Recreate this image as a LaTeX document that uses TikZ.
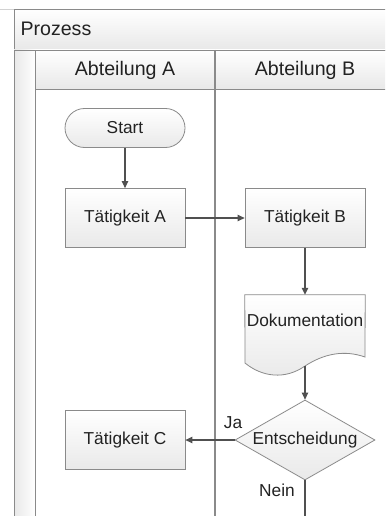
\documentclass[tikz,border=0pt]{standalone}
\usepackage{fontspec}
\setmainfont{Liberation Sans}
\usetikzlibrary{shapes.geometric,arrows.meta}

\definecolor{frame}{HTML}{8A8A8A}
\definecolor{wire}{HTML}{505050}
\definecolor{ink}{HTML}{222222}
\definecolor{bandlow}{HTML}{E8E8E8}
\definecolor{boxlow}{HTML}{E9E9E9}

\tikzset{
  body/.style={font=\fontsize{17.3}{20}\selectfont, text=ink},
  head/.style={font=\fontsize{19.6}{23}\selectfont, text=ink},
  band/.style={draw=frame, line width=0.9pt, top color=white, bottom color=bandlow},
  taskbox/.style={body, draw=frame, line width=0.8pt, top color=white, bottom color=boxlow,
    minimum width=120pt, minimum height=59pt, inner sep=0pt},
  terminal/.style={taskbox, minimum height=39pt, rounded corners=19.5pt},
  choice/.style={body, diamond, draw=frame, line width=0.8pt, top color=white, bottom color=boxlow,
    minimum width=140pt, minimum height=80pt, inner sep=0pt, shape aspect=1.75},
  flow/.style={draw=wire, line width=1.1pt, -{Triangle[length=7pt,width=6.5pt]}},
  plain/.style={draw=wire, line width=1.1pt},
  tag/.style={body, inner sep=0pt}
}

\begin{document}
\begin{tikzpicture}[x=1pt, y=-1pt]
\useasboundingbox (0,0) rectangle (385,516);
\begin{scope}
\clip (0,0) rectangle (385,516);
% pool frame: title band, left strip and lane headers
\draw[draw=gray!35, line width=0.8pt] (0,9) -- (14,9);
\path[band] (14,9) rectangle (400,50);
\path[draw=frame, line width=0.9pt, left color=bandlow, right color=white] (14,50) rectangle (35,530);
\path[band] (35,50) rectangle (400,89);
\draw[draw=frame, line width=1.2pt] (215,50) -- (215,530);
\node[head, anchor=west] (pool) at (17,29) {Prozess};
\node[head] (laneA) at (125,70) {Abteilung A};
\node[head] (laneB) at (305,70) {Abteilung B};
\end{scope}

% flow nodes
\node[terminal] (start) at (125,128) {Start};
\node[taskbox] (ta) at (125,218) {Tätigkeit A};
\node[taskbox] (tb) at (305,218) {Tätigkeit B};
\node[taskbox] (tc) at (125,440) {Tätigkeit C};
\node[choice] (dec) at (305,440) {Entscheidung};

% document shape with wavy bottom
\node[minimum width=120pt, minimum height=68pt, inner sep=0pt] (doc) at (305,329) {};
\path[draw=frame, line width=0.8pt, top color=white, bottom color=boxlow]
  (doc.north west) -- (doc.north east) -- (365,357)
  .. controls (345,350) and (325,353) .. (305,366)
  coordinate (docout)
  .. controls (285,380) and (262,377) .. (245,363) -- cycle;
\node[body] (doclabel) at (305,320) {Dokumentation};

% connectors
\draw[flow] (start) -- (ta);
\draw[flow] (ta) -- (tb);
\draw[flow] (tb) -- (doc.north);
\draw[flow] (docout) -- (dec.north);
\draw[flow] (dec.west) -- (tc.east);
\coordinate (exit) at (305,516);
\draw[plain] (dec.south) -- (exit);

% branch labels
\node[tag] (ja) at (233,423) {Ja};
\node[tag] (nein) at (277,490) {Nein};
\end{tikzpicture}
\end{document}
